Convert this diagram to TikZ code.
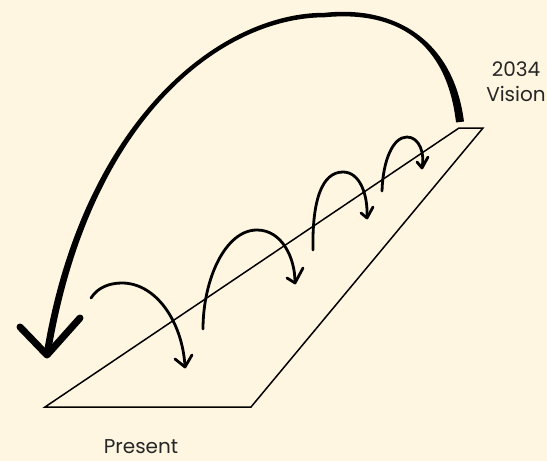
\documentclass[tikz,border=0pt]{standalone}
\usepackage{fontspec}
\setmainfont{Poppins}
\definecolor{bgcream}{HTML}{FFF6E1}
\begin{document}
\begin{tikzpicture}[x=1pt,y=-1pt,
  hop/.style={line width=2.8pt,line cap=round,line join=round},
  lbl/.style={font=\fontsize{20}{25}\selectfont,align=center,text=black!85}]
\fill[bgcream] (0,0) rectangle (547,461);
\useasboundingbox (0,0) rectangle (547,461);
% plane
\draw[line width=1.5pt,line join=miter] (45,407) -- (251,407) -- (483,128) -- (459,128) -- cycle;
% big return arrow (tapered stroke)
\fill[black] (463.97,121.52) .. controls (453.5,39.6) and (394.7,5.4) .. (325,12.75)
   .. controls (220,12.4) and (81.84,119.5) .. (43.55,354.44)
   -- (50.45,355.56) .. controls (88.16,120.5) and (220,17.6) .. (325,17.25)
   .. controls (395.3,10.6) and (446.5,40.4) .. (456.03,122.48) -- cycle;
\draw[line width=7pt,line cap=round,line join=round] (20,327) -- (47,355) -- (80,318);
% hops
\draw[hop] (91,298) .. controls (98,287) and (110,283) .. (122,283) .. controls (155,283) and (182,320) .. (185,366);
\draw[hop] (175,359) -- (185,367) -- (192,355);
\draw[hop] (203,329) .. controls (203,280) and (225,230) .. (257,230) .. controls (282,230) and (295,258) .. (295,282);
\draw[hop] (287,278) -- (295,283) -- (303,268);
\draw[hop] (313,250) .. controls (312,200) and (322,172) .. (343,172) .. controls (360,172) and (368,195) .. (367,217);
\draw[hop] (361,213) -- (367,218) -- (373,207);
\draw[hop] (382,191) .. controls (383,160) and (393,137) .. (407,137) .. controls (420,137) and (425,155) .. (422,167);
\draw[hop] (417,162) -- (422,168) -- (428,157);
% labels
\node[lbl] (vision) at (516,82) {2034\\Vision};
\node[lbl] (present) at (141,447) {Present};
\end{tikzpicture}
\end{document}
